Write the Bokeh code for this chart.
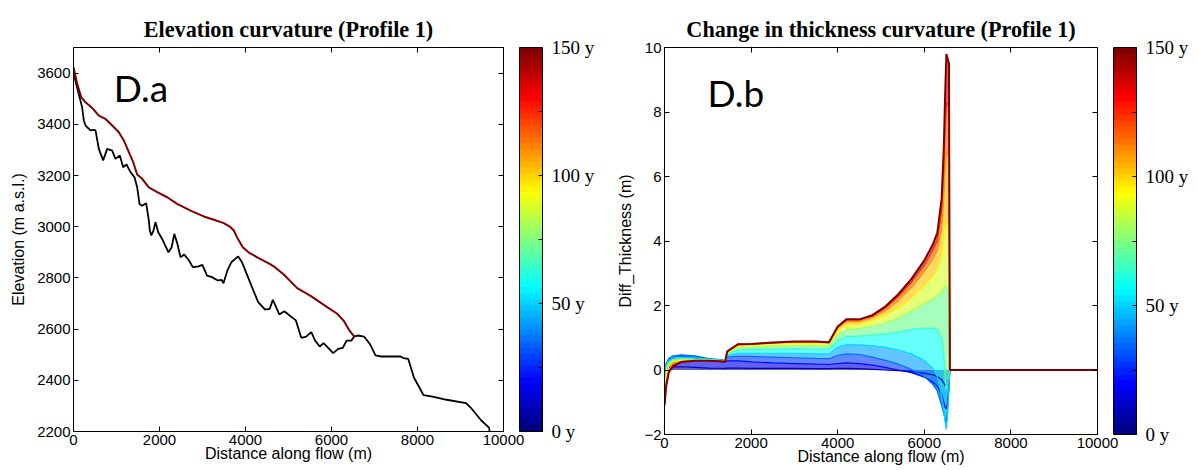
import numpy as np
from bokeh.plotting import figure
from bokeh.models import (LinearAxis, ColorBar, LinearColorMapper, FixedTicker, Label,
                          PrintfTickFormatter, CustomJSTickFormatter)
from bokeh.layouts import row
from bokeh.embed import file_html
from bokeh.resources import INLINE

# ---------------- data: left panel (elevation) ----------------
bed_x = [0, 120, 200, 240, 280, 395, 473, 512, 589, 690, 783, 900, 977, 1077, 1155, 1233, 1326, 1419,
         1481, 1535, 1597, 1690, 1752, 1775, 1809, 1860, 1907, 1970, 2058, 2209, 2283, 2344, 2416, 2488,
         2577, 2686, 2774, 2907, 2998, 3105, 3221, 3356, 3446, 3488, 3579, 3670, 3830, 3919, 4027, 4161,
         4295, 4456, 4563, 4635, 4698, 4786, 4903, 5055, 5172, 5297, 5413, 5530, 5619, 5726, 5816, 5923,
         6040, 6156, 6263, 6353, 6460, 6531, 6621, 6756, 6889, 7023, 7158, 7605, 7674, 7784, 7918, 8051,
         8140, 8321, 8679, 9126, 9260, 9484, 9663, 9679]
bed_y = [3600, 3519, 3467, 3415, 3395, 3376, 3378, 3376, 3304, 3259, 3304, 3297, 3265, 3278, 3232, 3243,
         3213, 3193, 3154, 3089, 3082, 3092, 3024, 2985, 2966, 2985, 3018, 2978, 2953, 2900, 2920, 2972,
         2933, 2881, 2891, 2868, 2842, 2845, 2851, 2809, 2803, 2790, 2792, 2779, 2829, 2861, 2884, 2861,
         2816, 2760, 2705, 2676, 2679, 2714, 2692, 2657, 2670, 2649, 2634, 2566, 2571, 2588, 2555, 2532,
         2545, 2527, 2506, 2523, 2527, 2555, 2555, 2572, 2575, 2571, 2543, 2497, 2493, 2493, 2487, 2484,
         2410, 2370, 2342, 2337, 2324, 2311, 2289, 2243, 2215, 2200]

surf_x = [0, 86, 179, 279, 434, 589, 744, 900, 1054, 1170, 1287, 1388, 1481, 1597, 1752, 1946, 2179,
          2411, 2721, 3030, 3263, 3496, 3651, 3729, 3802, 3937, 4070, 4295, 4563, 4698, 4891, 5202,
          5512, 5900, 6133, 6287, 6403, 6519, 6549]
surf_y = [3623, 3558, 3506, 3486, 3464, 3434, 3421, 3395, 3369, 3337, 3291, 3252, 3204, 3187, 3154,
          3135, 3115, 3089, 3063, 3040, 3027, 3014, 2998, 2985, 2959, 2920, 2900, 2878, 2855, 2840,
          2813, 2760, 2730, 2686, 2660, 2632, 2598, 2573, 2571]

# ---------------- data: right panel (thickness change) ----------------
dh_x = [0, 40, 100, 200, 400, 700, 1000, 1400, 1450, 1700, 2000, 2500, 3000, 3500, 3800, 4000, 4200,
        4500, 4800, 5100, 5400, 5700, 6000, 6200, 6300, 6400, 6450, 6480, 6510, 6540, 6570, 6590, 10000]
dh_y10 = [-0.3, 0.05, 0.08, 0.10, 0.10, 0.08, 0.06, 0.05, 0.06, 0.06, 0.05, 0.05, 0.05, 0.04, 0.04, 0.05,
          0.05, 0.04, 0.02, 0.0, -0.02, -0.05, -0.10, -0.15, -0.20, -0.30, -0.40, -0.48, -0.50, -0.40,
          -0.20, 0, 0]
dh_y20 = [-0.5, 0.2, 0.3, 0.38, 0.42, 0.38, 0.30, 0.25, 0.28, 0.28, 0.25, 0.22, 0.20, 0.18, 0.17, 0.20,
          0.22, 0.20, 0.15, 0.08, 0.0, -0.08, -0.22, -0.38, -0.5, -0.75, -1.0, -1.15, -1.2, -1.0, -0.5, 0, 0]
dh_y35 = [-0.7, 0.2, 0.36, 0.44, 0.47, 0.44, 0.36, 0.31, 0.40, 0.42, 0.42, 0.40, 0.38, 0.36, 0.35, 0.45,
          0.50, 0.48, 0.40, 0.30, 0.18, 0.02, -0.2, -0.45, -0.65, -1.1, -1.35, -1.5, -1.65, -1.2, -0.6, 0, 0]
dh_y50 = [-0.8, 0.15, 0.3, 0.38, 0.40, 0.38, 0.34, 0.30, 0.45, 0.52, 0.52, 0.52, 0.52, 0.50, 0.50, 0.70,
          0.78, 0.78, 0.75, 0.70, 0.62, 0.50, 0.30, 0.05, -0.2, -0.8, -1.3, -1.6, -1.85, -1.3, -0.5, 0, 0]
dh_y65 = [-0.9, 0.1, 0.25, 0.33, 0.35, 0.34, 0.32, 0.29, 0.50, 0.62, 0.63, 0.65, 0.66, 0.65, 0.64, 0.92,
          1.03, 1.05, 1.08, 1.12, 1.18, 1.25, 1.30, 1.30, 1.25, 1.0, 0.5, -0.3, -0.6, -0.4, -0.1, 0, 0]
dh_y80 = [-1.0, 0.0, 0.2, 0.30, 0.32, 0.31, 0.30, 0.28, 0.53, 0.70, 0.71, 0.74, 0.76, 0.76, 0.75, 1.10,
          1.25, 1.28, 1.35, 1.45, 1.62, 1.82, 2.05, 2.20, 2.30, 2.40, 2.50, 2.60, 2.60, 2.50, 2.40, 0, 0]
dh_y95 = [-1.05, -0.2, 0.12, 0.27, 0.30, 0.30, 0.30, 0.27, 0.55, 0.75, 0.76, 0.80, 0.82, 0.82, 0.80, 1.22,
          1.40, 1.42, 1.52, 1.68, 1.92, 2.22, 2.60, 2.90, 3.10, 3.50, 4.00, 4.40, 4.60, 4.50, 4.40, 0, 0]
dh_y110 = [-1.08, -0.35, 0.0, 0.20, 0.27, 0.29, 0.29, 0.26, 0.57, 0.78, 0.79, 0.83, 0.86, 0.86, 0.84, 1.30,
           1.50, 1.50, 1.62, 1.84, 2.15, 2.55, 3.05, 3.45, 3.70, 4.40, 5.30, 6.20, 6.80, 6.70, 6.60, 0, 0]
dh_y125 = [-1.1, -0.45, -0.05, 0.15, 0.26, 0.29, 0.29, 0.26, 0.58, 0.80, 0.80, 0.84, 0.87, 0.87, 0.85, 1.33,
           1.55, 1.55, 1.67, 1.92, 2.28, 2.72, 3.25, 3.72, 4.00, 4.90, 6.20, 7.40, 8.30, 8.20, 8.10, 0, 0]
dh_y150 = [-1.1, -0.5, -0.07, 0.12, 0.25, 0.29, 0.29, 0.26, 0.58, 0.80, 0.81, 0.85, 0.88, 0.88, 0.86, 1.35,
           1.57, 1.57, 1.70, 1.97, 2.35, 2.82, 3.40, 3.90, 4.25, 5.30, 6.90, 8.50, 9.80, 9.65, 9.50, 0, 0]
dh_years = [10, 20, 35, 50, 65, 80, 95, 110, 125, 150]
dh_curves = [dh_y10, dh_y20, dh_y35, dh_y50, dh_y65, dh_y80, dh_y95, dh_y110, dh_y125, dh_y150]

x_ticks = [0, 2000, 4000, 6000, 8000, 10000]
elev_ticks = [2200, 2400, 2600, 2800, 3000, 3200, 3400, 3600]
dh_ticks = [-2, 0, 2, 4, 6, 8, 10]
cb_ticks = [0, 50, 100, 150]
cb_minor = [25, 75, 125]
t_max = 150


def jet_rgb(f):
    r = min(max(1.5 - abs(4 * f - 3), 0), 1)
    g = min(max(1.5 - abs(4 * f - 2), 0), 1)
    b = min(max(1.5 - abs(4 * f - 1), 0), 1)
    return "#%02x%02x%02x" % (int(round(r * 255)), int(round(g * 255)), int(round(b * 255)))


jet64 = [jet_rgb(i / 63) for i in range(64)]
SANS = "Liberation Sans"
SERIF = "Liberation Serif"


def blank_axis(ticks, tick_in, tick_out, visible=True):
    return LinearAxis(ticker=FixedTicker(ticks=ticks),
                      formatter=CustomJSTickFormatter(code="return ''"),
                      major_label_text_font_size="1px", major_label_standoff=0,
                      major_tick_in=tick_in, major_tick_out=tick_out,
                      major_tick_line_color="black", major_tick_line_alpha=1 if visible else 0,
                      minor_tick_line_color=None,
                      axis_line_color="black" if visible else None)


def style(p, title, xlabel, ylabel, yticks):
    p.title.text = title
    p.title.align = "center"
    p.title.text_font = SERIF
    p.title.text_font_style = "bold"
    p.title.text_font_size = "22.2px"
    p.title.text_color = "black"
    p.title.standoff = 12
    p.xgrid.visible = False
    p.ygrid.visible = False
    p.outline_line_color = "black"
    p.outline_line_alpha = 1
    p.background_fill_color = "white"
    p.border_fill_color = "white"
    p.xaxis.ticker = FixedTicker(ticks=x_ticks)
    p.yaxis.ticker = FixedTicker(ticks=yticks)
    p.xaxis.axis_label = xlabel
    p.yaxis.axis_label = ylabel
    for ax in p.xaxis + p.yaxis:
        ax.axis_line_color = "black"
        ax.major_tick_line_color = "black"
        ax.major_tick_in = 5
        ax.major_tick_out = 0
        ax.minor_tick_line_color = None
        ax.major_label_text_font = SANS
        ax.major_label_text_font_size = "15px"
        ax.major_label_text_color = "black"
        ax.axis_label_text_font = SANS
        ax.axis_label_text_font_size = "16px"
        ax.axis_label_text_font_style = "normal"
        ax.axis_label_text_color = "black"
    p.xaxis.major_label_standoff = 3
    p.xaxis.axis_label_standoff = -3
    p.yaxis.major_label_standoff = 3
    p.yaxis.axis_label_standoff = 7
    p.add_layout(blank_axis(x_ticks, 5, 0), "above")
    p.add_layout(blank_axis(yticks, 5, 0), "right")
    p.add_layout(blank_axis(yticks, 0, 16, visible=False), "right")
    mapper = LinearColorMapper(palette=jet64, low=0, high=t_max)
    cb = ColorBar(color_mapper=mapper, ticker=FixedTicker(ticks=cb_ticks, minor_ticks=cb_minor),
                  formatter=PrintfTickFormatter(format="%d y"), width=23, padding=0, margin=0,
                  label_standoff=9, major_label_text_font=SERIF, major_label_text_font_size="19px",
                  major_label_text_color="black",
                  major_tick_line_color="black", major_tick_in=4, major_tick_out=0,
                  minor_tick_line_color="black", minor_tick_in=4, minor_tick_out=0,
                  bar_line_color="black", bar_line_width=1, border_line_color=None,
                  background_fill_color=None)
    p.add_layout(cb, "right")


# ---------------- left figure ----------------
p1 = figure(frame_width=430, frame_height=384, x_range=(0, 10000), y_range=(2200, 3700),
            output_backend="svg", toolbar_location=None,
            min_border_left=73, min_border_right=97, min_border_top=47, min_border_bottom=39)
style(p1, "Elevation curvature (Profile 1)", "Distance along flow (m)", "Elevation (m a.s.l.)", elev_ticks)
p1.line(bed_x, bed_y, line_color="black", line_width=1.8)
p1.line(surf_x, surf_y, line_color=jet_rgb(1.0), line_width=2.0)
p1.add_layout(Label(x=937, y=3545, text="D.a", text_font="Lato", text_font_size="37px",
                    text_color="black", text_baseline="alphabetic"))

# ---------------- right figure ----------------
p2 = figure(frame_width=433, frame_height=387, x_range=(0, 10000), y_range=(-2, 10),
            output_backend="svg", toolbar_location=None,
            min_border_left=64, min_border_right=93, min_border_top=42, min_border_bottom=41)
style(p2, "Change in thickness curvature (Profile 1)", "Distance along flow (m)", "Diff_Thickness (m)", dh_ticks)
p2.yaxis[0].major_label_overrides = {-2: "\u22122"}

prev = [0] * len(dh_x)
prev_year = 0
for yr, cur in zip(dh_years, dh_curves):
    p2.varea(x=dh_x, y1=prev, y2=cur, fill_color=jet_rgb((yr + prev_year) / 2 / t_max), fill_alpha=0.62)
    prev, prev_year = cur, yr
for yr, cur in zip(dh_years, dh_curves):
    p2.line(dh_x, cur, line_color=jet_rgb(yr / t_max), line_width=2.0 if yr == t_max else 1.2)
p2.add_layout(Label(x=993, y=8.62, text="D.b", text_font="Lato", text_font_size="37px",
                    text_color="black", text_baseline="alphabetic"))

layout = row(p1, p2)
open("out.html", "w").write(file_html(layout, INLINE))
